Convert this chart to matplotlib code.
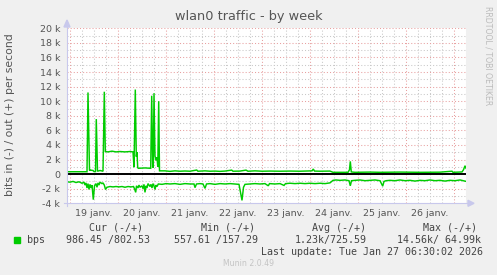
import numpy as np
import matplotlib
matplotlib.use("Agg")
import matplotlib.pyplot as plt
from matplotlib.patches import Polygon, Rectangle
from matplotlib.lines import Line2D

# ---------------- data (hours since 19 janv. 00:00, values in k bit/s) -------------
out_hours = [-1.5, 8.5, 9, 9.75, 10, 11.5, 12, 12.75, 13.15, 13.75, 15, 16.5, 17.15,
             17.65, 19, 21, 23, 25, 27.5, 30, 31.5, 32, 32.65, 33.15, 33.5, 33.85,
             34.15, 37.5, 40.35, 40.85, 41.35, 41.65, 42, 42.5, 43, 43.5, 43.9, 44.35,
             44.75, 47.5, 50, 52.5, 55, 57.5, 60, 63.35, 64, 67.5, 70, 72.5, 75, 77.5,
             80.85, 81.5, 85, 88, 89, 92.5, 96, 100, 105, 110, 115, 121, 121.65, 122.25,
             125, 130, 131.5, 135, 139, 139.75, 140.15, 140.65, 142.5, 150, 155, 165,
             175, 185, 191, 191.5, 196, 196.75, 197.5, 198]
out_values = [0.33, 0.33, 11.2, 0.5, 0.56, 0.5, 0.35, 0.35, 7.55, 0.4, 0.5, 0.4, 11.3,
              3.1, 3.05, 3.15, 3.05, 3.1, 3.05, 3.1, 3.05, 0.95, 11.6, 2.4, 3.0, 0.9,
              0.8, 0.85, 0.8, 10.75, 1.0, 0.9, 11.1, 2.5, 1.9, 2.3, 1.0, 10.0,
              0.45, 0.45, 0.38, 0.45, 0.4, 0.43, 0.4, 0.56, 0.4, 0.45, 0.4, 0.42, 0.38, 0.42,
              0.55, 0.4, 0.42, 0.55, 0.4, 0.45, 0.4, 0.42, 0.4, 0.42, 0.4, 0.45, 0.7, 0.42,
              0.4, 0.42, 0.25, 0.25, 0.25, 0.6, 1.75, 0.3, 0.25, 0.28, 0.25, 0.28,
              0.25, 0.27, 0.4, 0.25, 0.3, 0.6, 1.15, 0.8]

in_hours = [-1.5, 0, 1.5, 3, 4.5, 6, 7, 7.5, 8, 8.5, 9, 9.5, 10, 10.5, 11, 11.65, 12.25,
            13, 13.5, 14, 14.5, 15, 16, 16.5, 17.15, 17.75, 18.5, 20, 21.5, 23, 24.5, 26,
            27.5, 29, 30.5, 31.75, 32.25, 32.85, 33.25, 34, 34.5, 35, 36, 36.5, 37, 37.5,
            38, 38.5, 39, 40, 40.5, 41, 41.5, 42, 42.5, 43, 43.5, 44.15, 46, 48, 50, 52.5,
            55, 57.5, 60, 62, 62.5, 63.25, 65, 66.5, 67.5, 68.25, 70, 72.5, 75, 77.5, 80,
            82.5, 84.5, 85.25, 86, 86.75, 87.5, 90, 92.5, 95, 97.5, 99.15, 99.75, 102.5,
            105, 107, 107.75, 110, 112.5, 115, 117.5, 120, 122.5, 125, 127.5, 130, 131.5,
            133, 135, 137.5, 139.5, 140.15, 140.75, 142.5, 145, 147.5, 150, 152.5, 155,
            156.35, 157, 158, 160, 162.5, 165, 167.5, 170, 172.5, 175, 177.5, 180, 182.5,
            185, 187.5, 190, 192.5, 195, 198]
in_values = [-1.05, -1.1, -1.0, -1.15, -1.05, -1.25, -1.1, -1.5, -1.2, -1.9, -1.3, -2.1,
             -1.4, -1.9, -1.5, -3.5, -1.6, -1.3, -1.8, -1.2, -1.5, -1.1, -1.3, -1.2, -1.5,
             -2.1, -1.8, -1.7, -1.75, -1.7, -1.75, -1.7, -1.8, -1.7, -1.75, -1.7, -2.0,
             -2.5, -1.6, -1.9, -1.5, -1.8, -1.6, -2.0, -1.4, -2.5, -1.6, -1.9, -1.3, -1.7,
             -1.4, -1.9, -1.3, -1.6, -2.1, -1.5, -1.7, -1.35, -1.4, -1.3, -1.35, -1.3, -1.4,
             -1.3, -1.35, -1.35, -1.85, -1.35, -1.3, -1.35, -1.95, -1.35, -1.3, -1.4, -1.3,
             -1.35, -1.3, -1.35, -1.4, -2.5, -3.6, -1.8, -1.4, -1.35, -1.3, -1.35, -1.3,
             -1.6, -1.3, -1.35, -1.3, -1.55, -1.3, -1.25, -1.3, -1.25, -1.3, -1.25, -1.3,
             -1.25, -1.3, -1.2, -0.85, -0.8, -0.85, -0.8, -0.9, -1.6, -0.9, -0.85, -0.8,
             -0.9, -0.85, -0.8, -0.9, -1.65, -1.0, -0.9, -0.85, -0.9, -0.8, -0.9, -0.85,
             -0.95, -0.85, -0.9, -0.8, -0.9, -0.85, -0.95, -0.85, -0.9, -0.8, -0.99]

day_labels = ["19 janv.", "20 janv.", "21 janv.", "22 janv.",
              "23 janv.", "24 janv.", "25 janv.", "26 janv."]
y_ticks = [-4, -2, 0, 2, 4, 6, 8, 10, 12, 14, 16, 18, 20]
y_labels = ["-4 k", "-2 k", "0", "2 k", "4 k", "6 k", "8 k", "10 k", "12 k",
            "14 k", "16 k", "18 k", "20 k"]
legend_headers = ["Cur (-/+)", "Min (-/+)", "Avg (-/+)", "Max (-/+)"]
legend_values = ["986.45 /802.53", "557.61 /157.29", "1.23k/725.59", "14.56k/ 64.99k"]
series_name = "bps"
last_update = "Last update: Tue Jan 27 06:30:02 2026"

# ---------------- figure -------------
W, H = 497, 275
fig = plt.figure(figsize=(W / 100, H / 100), dpi=100, facecolor="#F0F0F0")

def fx(px):
    return px / W

def fy(py):
    return 1 - py / H

L, R, T, B = 67, 466, 28.3, 203.3
ax = fig.add_axes([fx(L), fy(B), fx(R) - fx(L), fy(T) - fy(B)])
ax.set_facecolor("white")
ax.set_xlim(-1.5, 198)
ax.set_ylim(-4, 20)

GREEN = "#00CC00"
MAJ = "#E8A0A0"
MIN = "#C8C8C8"
dot = (0, (1, 2))

# grid
for h in np.arange(0, 199, 6):
    if h % 24 == 0:
        continue
    ax.axvline(h, color=MIN, lw=0.75, ls=dot, zorder=1)
for v in np.arange(-3, 20, 2):
    ax.axhline(v, color=MIN, lw=0.75, ls=dot, zorder=1)
for h in np.arange(0, 199, 24):
    ax.axvline(h, color=MAJ, lw=0.75, ls=dot, zorder=1.1)
for v in y_ticks:
    ax.axhline(v, color=MAJ, lw=0.75, ls=dot, zorder=1.1)

ax.axhline(0, color="black", lw=1.4, zorder=2)
ax.plot(out_hours, out_values, color=GREEN, lw=1.05, zorder=3, solid_joinstyle="miter")
ax.plot(in_hours, in_values, color=GREEN, lw=1.05, zorder=3, solid_joinstyle="miter")

TXT = "#555555"
ax.set_yticks(y_ticks)
ax.set_yticklabels(y_labels)
ax.set_xticks([12 + 24 * i for i in range(len(day_labels))])
ax.set_xticklabels(day_labels)
ax.tick_params(axis="both", length=0, labelsize=6.8, colors=TXT, pad=5)
ax.tick_params(axis="x", pad=4)
for sp in ax.spines.values():
    sp.set_visible(False)

# axes lines and arrows (light blue)
AX = "#C8C8EC"
fig.add_artist(Line2D([fx(L), fx(L)], [fy(B + 3), fy(23)], color=AX, lw=0.8))
fig.add_artist(Line2D([fx(L - 3), fx(R + 3)], [fy(B), fy(B)], color=AX, lw=0.8))
fig.add_artist(Polygon([[fx(L - 3), fy(27)], [fx(L + 3), fy(27)], [fx(L), fy(20)]],
                       closed=True, color=AX, transform=fig.transFigure))
fig.add_artist(Polygon([[fx(R + 2), fy(B - 3)], [fx(R + 2), fy(B + 3)], [fx(R + 8), fy(B)]],
                       closed=True, color=AX, transform=fig.transFigure))

# titles
fig.text(0.5, fy(16.5), "wlan0 traffic - by week", ha="center", va="center",
         fontsize=9.3, color=TXT)
fig.text(fx(10), fy(115), "bits in (-) / out (+) per second", rotation=90,
         ha="center", va="center", fontsize=7.8, color=TXT)
fig.text(fx(488), fy(56), "RRDTOOL / TOBI OETIKER", rotation=270,
         ha="center", va="center", fontsize=5.6, color="#BBBBBB")

# legend
MONO = "DejaVu Sans Mono"
LEG = "#444444"
for x, s in zip([89, 201, 312, 423], legend_headers):
    fig.text(fx(x), fy(228), s, ha="left", va="center", fontsize=7.2,
             family=MONO, color=LEG)
fig.add_artist(Rectangle((fx(14), fy(243)), fx(5.5), fy(237) - fy(243),
                         color=GREEN, transform=fig.transFigure))
fig.text(fx(27), fy(240), series_name, ha="left", va="center", fontsize=7.2,
         family=MONO, color=LEG)
for x, s in zip([66, 174, 295, 397], legend_values):
    fig.text(fx(x), fy(240), s, ha="left", va="center", fontsize=7.2,
             family=MONO, color=LEG)
fig.text(fx(483), fy(252), last_update, ha="right", va="center", fontsize=7.2,
         family=MONO, color=LEG)
fig.text(fx(248.5), fy(264), "Munin 2.0.49", ha="center", va="center",
         fontsize=5.6, color="#C4C4C4")

fig.savefig("out.png", dpi=100, facecolor=fig.get_facecolor())
